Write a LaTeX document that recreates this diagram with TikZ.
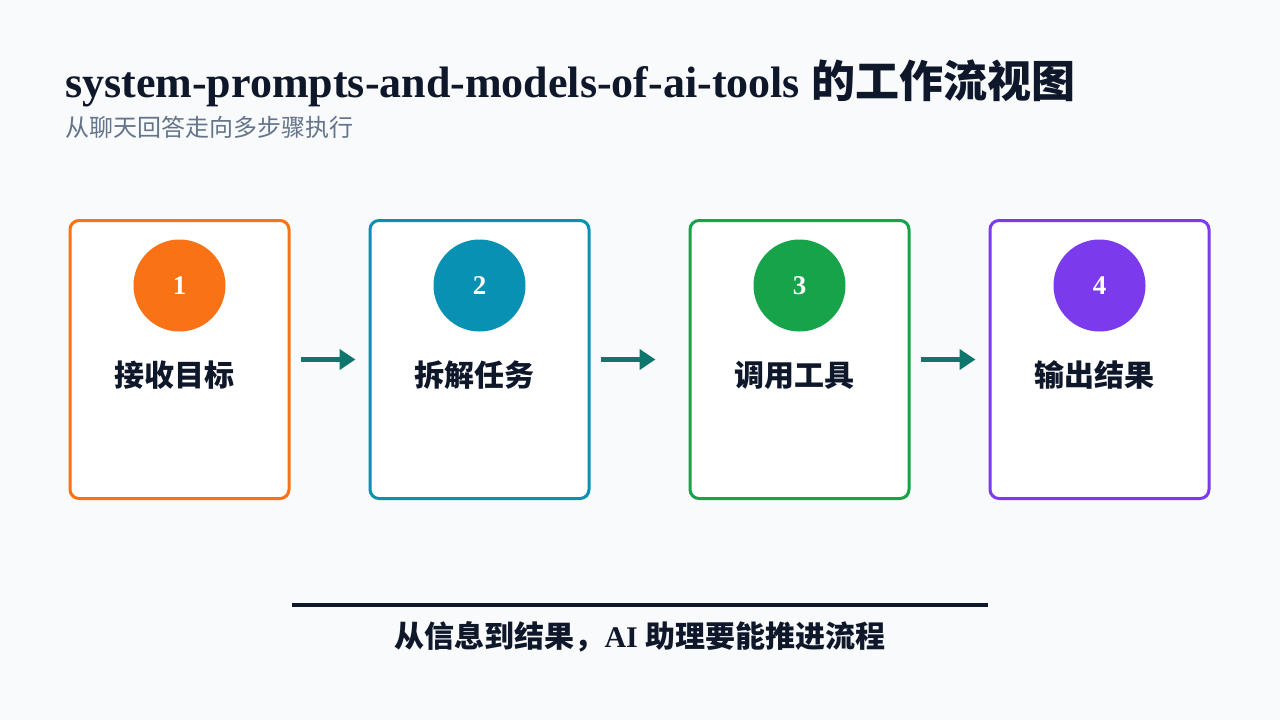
\documentclass[tikz,border=0pt]{standalone}
\usepackage{fontspec}
\setmainfont{Liberation Serif}
\newfontfamily\cjk{Noto Sans CJK SC}
\usetikzlibrary{arrows.meta,positioning}
\definecolor{pagebg}{HTML}{F8FAFC}
\definecolor{ink}{HTML}{0F172A}
\definecolor{slate}{HTML}{64748B}
\definecolor{flowteal}{HTML}{0F766E}
\definecolor{stepone}{HTML}{F97316}
\definecolor{steptwo}{HTML}{0891B2}
\definecolor{stepthree}{HTML}{16A34A}
\definecolor{stepfour}{HTML}{7C3AED}
\tikzset{
  stagecard/.style={
    rectangle, draw=#1, fill=white, line width=3pt, rounded corners=9pt,
    minimum width=219pt, minimum height=278pt, inner sep=0pt
  },
  stagecard/.default=stepone,
  stagebadge/.style={
    circle, fill=#1, minimum size=92pt, inner sep=0pt, text=white,
    font=\bfseries\fontsize{27}{30}\selectfont
  },
  stagebadge/.default=stepone,
  stagelabel/.style={
    font=\cjk\bfseries\fontsize{30}{34}\selectfont, text=ink
  },
  flowarrow/.style={
    -{Triangle[length=16pt,width=20pt]}, line width=5pt, color=flowteal
  },
}
\begin{document}
\begin{tikzpicture}[x=1pt,y=-1pt]
  \useasboundingbox[fill=pagebg] (0,0) rectangle (1280,720);

  % Title and subtitle
  \node[anchor=base west, inner sep=0pt, text=ink,
        font=\bfseries\fontsize{44}{50}\selectfont] (title) at (65,97)
    {system-prompts-and-models-of-ai-tools {\cjk 的工作流视图}};
  \node[anchor=base west, inner sep=0pt, text=slate,
        font=\cjk\fontsize{24}{28}\selectfont] (subtitle) at (65,136)
    {从聊天回答走向多步骤执行};

  % Stage cards
  \node[stagecard=stepone]   (card1) at (179.5,359.5) {};
  \node[stagecard=steptwo]   (card2) at (479.5,359.5) {};
  \node[stagecard=stepthree] (card3) at (799.5,359.5) {};
  \node[stagecard=stepfour]  (card4) at (1099.5,359.5) {};

  \node[stagebadge=stepone]   (badge1) at (179.5,285.5) {\raisebox{-2pt}{1}};
  \node[stagebadge=steptwo]   (badge2) at (479.5,285.5) {\raisebox{-2pt}{2}};
  \node[stagebadge=stepthree] (badge3) at (799.5,285.5) {\raisebox{-2pt}{3}};
  \node[stagebadge=stepfour]  (badge4) at (1099.5,285.5) {\raisebox{-2pt}{4}};

  \node[stagelabel] (label1) at (174.5,375) {接收目标};
  \node[stagelabel] (label2) at (474.5,375) {拆解任务};
  \node[stagelabel] (label3) at (794.5,375) {调用工具};
  \node[stagelabel] (label4) at (1094.5,375) {输出结果};

  % Flow arrows
  \draw[flowarrow] ([xshift=10pt]card1.east) -- ([xshift=-13pt]card2.west);
  \draw[flowarrow] ([xshift=10pt]card2.east) -- ([xshift=-33pt]card3.west);
  \draw[flowarrow] ([xshift=10pt]card3.east) -- ([xshift=-13pt]card4.west);

  % Closing line
  \coordinate (ruleL) at (292,605);
  \coordinate (ruleR) at (988,605);
  \draw[line width=4pt, ink] (ruleL) -- (ruleR);
  \node[text=ink, font=\bfseries\fontsize{30}{34}\selectfont] (closing) at (640,637)
    {{\cjk 从信息到结果，}AI {\cjk 助理要能推进流程}};
\end{tikzpicture}
\end{document}
